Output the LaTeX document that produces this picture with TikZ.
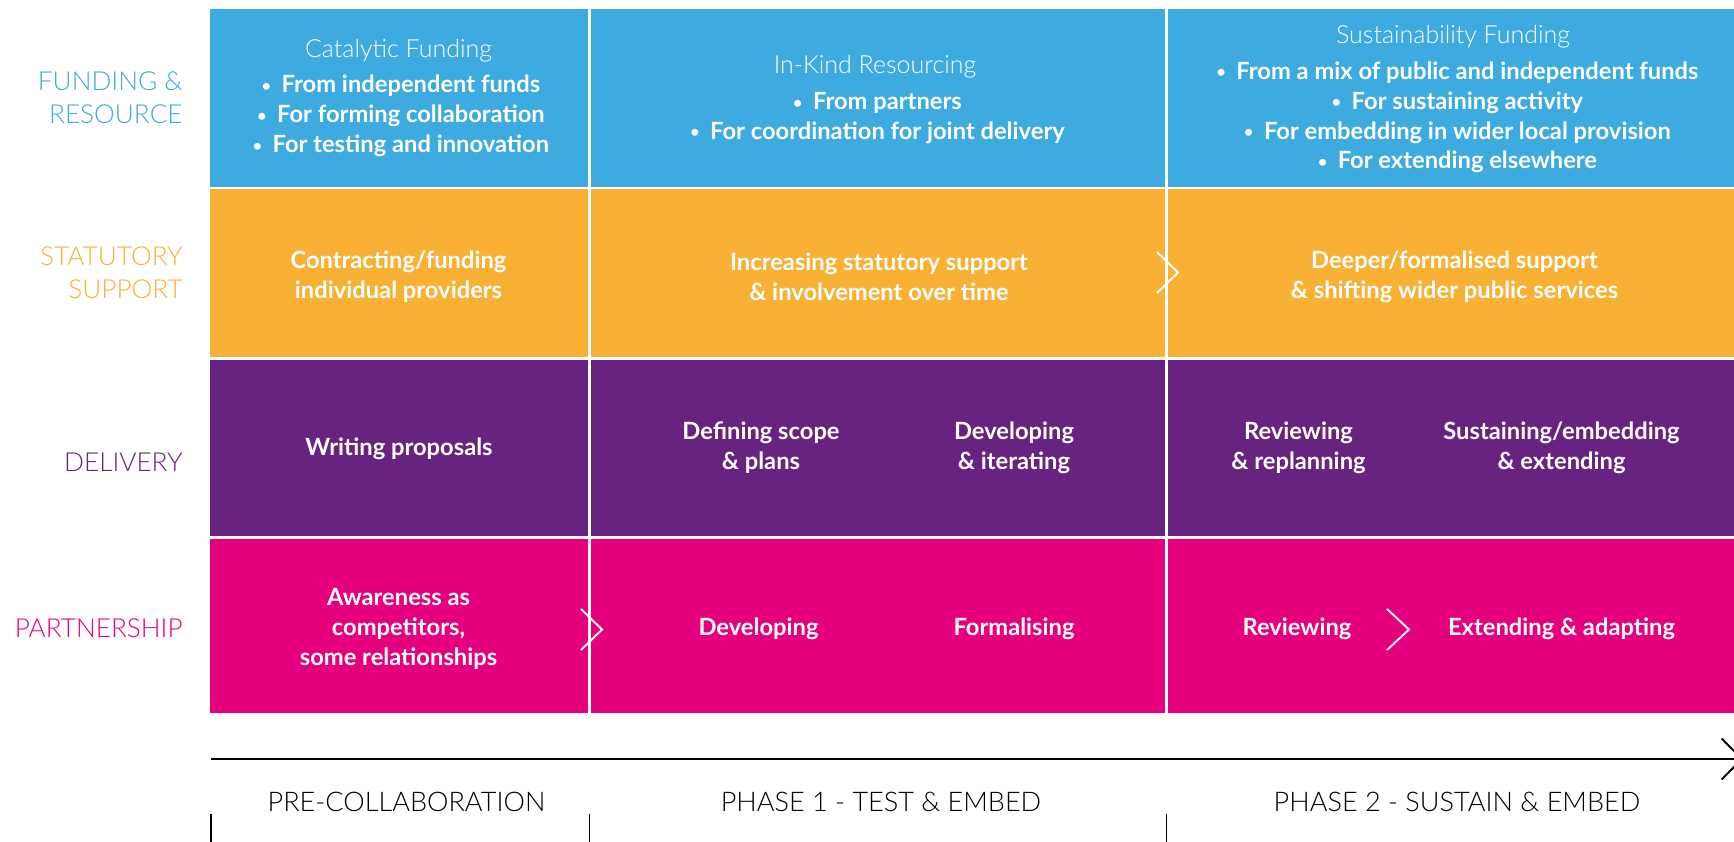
\documentclass[tikz,border=0pt]{standalone}
\usepackage{fontspec}
\setmainfont{Lato}
\newfontfamily\lightfont{Lato Light}
\usetikzlibrary{arrows.meta}

\definecolor{fundblue}{RGB}{61,170,224}
\definecolor{statorange}{RGB}{248,177,52}
\definecolor{delpurple}{RGB}{104,34,128}
\definecolor{partpink}{RGB}{230,0,126}

\newcommand{\itm}{\raisebox{0.12ex}{\fontsize{9}{9}\selectfont•}\hspace{0.45em}}

\begin{document}
\begin{tikzpicture}[
    rowlabel/.style={anchor=east, align=right, inner sep=0pt, font=\lightfont\fontsize{14.9}{18.8}\selectfont},
    cellhead/.style={white, font=\lightfont\fontsize{14.2}{16}\selectfont},
    celltext/.style={white, align=center, font=\bfseries\fontsize{13.5}{17}\selectfont},
    phase/.style={font=\lightfont\fontsize{15.4}{18}\selectfont},
    gap/.style={white, line width=1.2pt},
    chev/.style={white, line width=1.1pt}
  ]
  \useasboundingbox (0,0) rectangle (34.68,16.84);

  % the four bands
  \fill[fundblue] (4.20,13.08) rectangle (34.68,16.66);
  \fill[statorange] (4.20,9.67) rectangle (34.68,13.08);
  \fill[delpurple] (4.20,6.09) rectangle (34.68,9.67);
  \fill[partpink] (4.20,2.57) rectangle (34.68,6.09);

  \draw[gap] (4.20,13.08) -- (34.68,13.08);
  \draw[gap] (4.20,9.67) -- (34.68,9.67);
  \draw[gap] (4.20,6.09) -- (34.68,6.09);
  \draw[gap] (11.79,16.66) -- (11.79,2.57);
  \draw[gap] (23.33,16.66) -- (23.33,2.57);

  % row labels
  \node[rowlabel, fundblue] (fund) at (3.66,14.89) {FUNDING \&\\RESOURCE};
  \node[rowlabel, statorange] (stat) at (3.66,11.39) {STATUTORY\\SUPPORT};
  \node[rowlabel, delpurple] (deliv) at (3.66,7.59) {DELIVERY};
  \node[rowlabel, partpink] (partner) at (3.66,4.28) {PARTNERSHIP};

  % funding & resource
  \node[cellhead] (catalytic) at (7.97,15.82) {Catalytic Funding};
  \node[celltext] (catlist) at (8.02,14.52) {\itm From independent funds\\\itm For forming collaboration\\\itm For testing and innovation};
  \node[cellhead] (inkind) at (17.50,15.51) {In-Kind Resourcing};
  \node[celltext] (inkindlist) at (17.55,14.48) {\itm From partners\\\itm For coordination for joint delivery};
  \node[cellhead] (sustain) at (29.06,16.11) {Sustainability Funding};
  \node[celltext] (sustainlist) at (29.15,14.49) {\itm From a mix of public and independent funds\\\itm For sustaining activity\\\itm For embedding in wider local provision\\\itm For extending elsewhere};

  % statutory support
  \node[celltext] (contract) at (7.97,11.31) {Contracting/funding\\individual providers};
  \node[celltext] (increase) at (17.58,11.31) {Increasing statutory support\\\& involvement over time};
  \node[celltext] (deeper) at (29.09,11.31) {Deeper/formalised support\\\& shifting wider public services};
  \draw[chev] (23.14,11.80) -- (23.56,11.39) -- (23.14,10.98);

  % delivery
  \node[celltext] (writing) at (7.98,7.86) {Writing proposals};
  \node[celltext] (defining) at (15.22,7.88) {Defining scope\\\& plans};
  \node[celltext] (iterating) at (20.28,7.88) {Developing\\\& iterating};
  \node[celltext] (replanning) at (25.97,7.88) {Reviewing\\\& replanning};
  \node[celltext] (embedding) at (31.23,7.88) {Sustaining/embedding\\\& extending};

  % partnership
  \node[celltext] (awareness) at (7.97,4.26) {Awareness as\\competitors,\\some relationships};
  \node[celltext] (developing) at (15.17,4.26) {Developing};
  \node[celltext] (formalising) at (20.28,4.26) {Formalising};
  \node[celltext] (reviewing) at (25.94,4.26) {Reviewing};
  \node[celltext] (extending) at (31.23,4.26) {Extending \& adapting};
  \draw[chev] (11.62,4.66) -- (12.04,4.25) -- (11.62,3.84);
  \draw[chev] (27.74,4.66) -- (28.18,4.25) -- (27.74,3.84);

  % time line
  \coordinate (start) at (4.22,1.66);
  \coordinate (finish) at (34.86,1.66);
  \draw[line width=1.1pt, -{Straight Barb[length=4mm, width=8.2mm]}] (start) -- (finish);
  \draw[line width=1.1pt] (4.22,0.56) -- (4.22,-0.1);
  \draw[line width=1.1pt] (11.79,0.56) -- (11.79,-0.1);
  \draw[line width=1.1pt] (23.33,0.56) -- (23.33,-0.1);

  \node[phase] (pre) at (8.13,0.80) {PRE-COLLABORATION};
  \node[phase] (phaseone) at (17.62,0.80) {PHASE 1 - TEST \& EMBED};
  \node[phase] (phasetwo) at (29.14,0.80) {PHASE 2 - SUSTAIN \& EMBED};
\end{tikzpicture}
\end{document}
